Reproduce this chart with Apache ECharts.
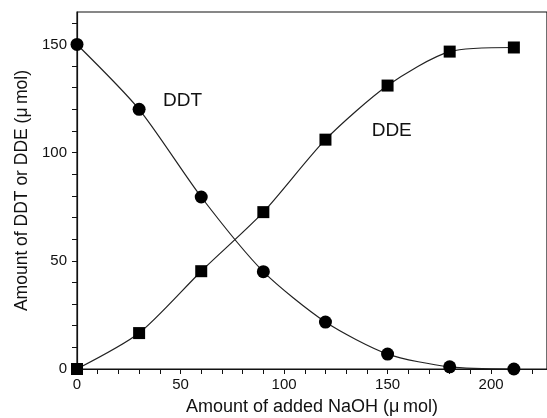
<!DOCTYPE html>
<html>
<head>
<meta charset="utf-8">
<script src="https://cdn.jsdelivr.net/npm/echarts@6/dist/echarts.min.js"></script>
<style>html,body{margin:0;padding:0;background:#fff}#c{width:547px;height:418px}</style>
</head>
<body>
<div id="c"></div>
<script>
const naoh = [0, 30, 60, 90, 120, 150, 180, 211];
const ddt = [150, 120, 79.5, 45, 21.7, 6.9, 1, 0];
const dde = [0, 16.6, 45.2, 72.5, 106, 131, 146.7, 148.6];
const xTickLabels = [0, 50, 100, 150, 200];
const xTicks = [0, 10, 20, 30, 40, 50, 60, 70, 80, 90, 100, 110, 120, 130, 140, 150, 160, 170, 180, 190, 200, 210, 220];
const yTickLabels = [0, 50, 100, 150];
const yTicks = [0, 10, 20, 30, 40, 50, 60, 70, 80, 90, 100, 110, 120, 130, 140, 150, 160];
const annotations = [{ name: 'DDT', at: [51, 124] }, { name: 'DDE', at: [152, 110] }];

const FONT = 'Liberation Sans, Arial, sans-serif';
const INK = '#111';
const chart = echarts.init(document.getElementById('c'), null, { renderer: 'canvas' });
const pairs = (xs, ys) => xs.map((x, i) => [x, ys[i]]);

chart.setOption({
  animation: false,
  backgroundColor: '#fff',
  grid: { left: 77, right: 0, top: 12, bottom: 49, containLabel: false, outerBoundsMode: 'none', show: true, borderColor: INK, borderWidth: 1.2, backgroundColor: 'transparent' },
  xAxis: {
    type: 'value', min: 0, max: 227,
    name: 'Amount of added NaOH (\u03bc\u2009mol)', nameLocation: 'middle', nameGap: 29,
    nameTextStyle: { fontFamily: FONT, fontSize: 18, color: INK },
    axisLine: { show: true, onZero: false, lineStyle: { color: INK, width: 1.2 } },
    axisTick: { show: true, length: 5, inside: false, customValues: xTicks, lineStyle: { color: INK } },
    axisLabel: { customValues: xTickLabels, margin: 8, fontFamily: FONT, fontSize: 15, color: INK },
    splitLine: { show: false }
  },
  yAxis: {
    type: 'value', min: 0, max: 165,
    name: 'Amount of DDT or DDE (\u03bc\u2009mol)', nameLocation: 'middle', nameGap: 46, nameRotate: 90,
    nameTextStyle: { fontFamily: FONT, fontSize: 17.5, color: INK },
    axisLine: { show: true, onZero: false, lineStyle: { color: INK, width: 1.2 } },
    axisTick: { show: true, length: 5, inside: false, customValues: yTicks, lineStyle: { color: INK } },
    axisLabel: { customValues: yTickLabels, margin: 10, fontFamily: FONT, fontSize: 15, color: INK },
    splitLine: { show: false }
  },
  series: [
    {
      name: 'DDT', type: 'line', data: pairs(naoh, ddt), smooth: 0.25,
      symbol: 'circle', symbolSize: 13,
      itemStyle: { color: '#000' }, lineStyle: { color: '#222', width: 1.2 },
      markPoint: {
        symbol: 'circle', symbolSize: 0, silent: true,
        label: { show: true, formatter: '{b}', fontFamily: FONT, fontSize: 19, color: INK },
        data: [{ name: annotations[0].name, coord: annotations[0].at }]
      }
    },
    {
      name: 'DDE', type: 'line', data: pairs(naoh, dde), smooth: 0.25,
      symbol: 'rect', symbolSize: 12,
      itemStyle: { color: '#000' }, lineStyle: { color: '#222', width: 1.2 },
      markPoint: {
        symbol: 'circle', symbolSize: 0, silent: true,
        label: { show: true, formatter: '{b}', fontFamily: FONT, fontSize: 19, color: INK },
        data: [{ name: annotations[1].name, coord: annotations[1].at }]
      }
    }
  ]
});
</script>
</body>
</html>
